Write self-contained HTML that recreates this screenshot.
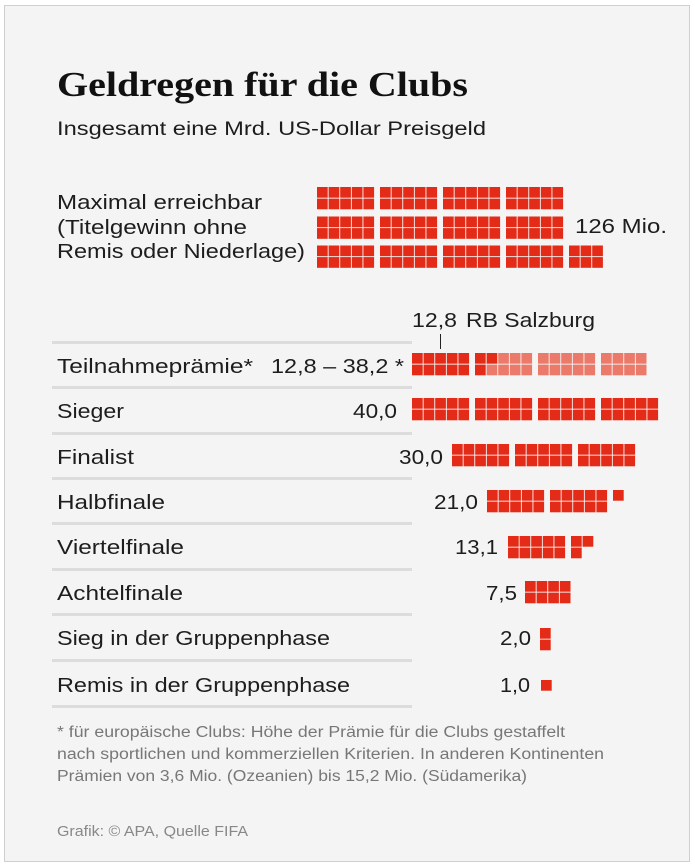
<!DOCTYPE html>
<html><head><meta charset="utf-8"><style>
html,body{margin:0;padding:0;background:#fff;}
svg{display:block;}
text{font-family:"Liberation Sans",sans-serif;fill:#1d1d1d;}
</style></head><body>
<svg id="s" width="695" height="866" xmlns="http://www.w3.org/2000/svg">
<rect x="4.5" y="5.5" width="685" height="856" fill="#f4f4f4" stroke="#cfcfcf"/>
<text x="57" y="96" style="font-family:'Liberation Serif',serif;font-weight:bold;font-size:35px;fill:#111" textLength="411" lengthAdjust="spacingAndGlyphs">Geldregen für die Clubs</text>
<text x="57" y="135" font-size="19.5" textLength="429" lengthAdjust="spacingAndGlyphs">Insgesamt eine Mrd. US-Dollar Preisgeld</text>
<g font-size="20.5">
<text x="57" y="209" textLength="205" lengthAdjust="spacingAndGlyphs">Maximal erreichbar</text>
<text x="57" y="234" textLength="190" lengthAdjust="spacingAndGlyphs">(Titelgewinn ohne</text>
<text x="57" y="258" textLength="248" lengthAdjust="spacingAndGlyphs">Remis oder Niederlage)</text>
<text x="575" y="233" textLength="92" lengthAdjust="spacingAndGlyphs">126 Mio.</text>
<text x="412" y="327" textLength="45" lengthAdjust="spacingAndGlyphs">12,8</text>
<text x="466" y="327" textLength="129" lengthAdjust="spacingAndGlyphs">RB Salzburg</text>
</g>
<line x1="440.5" y1="334" x2="440.5" y2="349" stroke="#222" stroke-width="1"/>
<g fill="#dcdcdc">
<rect x="52" y="341" width="360" height="3"/><rect x="52" y="386" width="360" height="3"/>
<rect x="52" y="432" width="360" height="3"/><rect x="52" y="477" width="360" height="3"/>
<rect x="52" y="522" width="360" height="3"/><rect x="52" y="568" width="360" height="3"/>
<rect x="52" y="613" width="360" height="3"/><rect x="52" y="659" width="360" height="3"/>
<rect x="52" y="705" width="360" height="3"/>
</g>
<g font-size="20.5">
<text x="57" y="373" textLength="196" lengthAdjust="spacingAndGlyphs">Teilnahmeprämie*</text><text x="271" y="373" textLength="133" lengthAdjust="spacingAndGlyphs">12,8 – 38,2 *</text>
<text x="57" y="418" textLength="67" lengthAdjust="spacingAndGlyphs">Sieger</text><text x="353" y="418" textLength="44" lengthAdjust="spacingAndGlyphs">40,0</text>
<text x="57" y="464" textLength="77" lengthAdjust="spacingAndGlyphs">Finalist</text><text x="399" y="464" textLength="44" lengthAdjust="spacingAndGlyphs">30,0</text>
<text x="57" y="509" textLength="108" lengthAdjust="spacingAndGlyphs">Halbfinale</text><text x="434" y="509" textLength="44" lengthAdjust="spacingAndGlyphs">21,0</text>
<text x="57" y="554" textLength="127" lengthAdjust="spacingAndGlyphs">Viertelfinale</text><text x="455" y="554" textLength="43" lengthAdjust="spacingAndGlyphs">13,1</text>
<text x="57" y="600" textLength="126" lengthAdjust="spacingAndGlyphs">Achtelfinale</text><text x="486" y="600" textLength="31" lengthAdjust="spacingAndGlyphs">7,5</text>
<text x="57" y="645" textLength="273" lengthAdjust="spacingAndGlyphs">Sieg in der Gruppenphase</text><text x="500" y="645" textLength="31" lengthAdjust="spacingAndGlyphs">2,0</text>
<text x="57" y="692" textLength="293" lengthAdjust="spacingAndGlyphs">Remis in der Gruppenphase</text><text x="500" y="692" textLength="30" lengthAdjust="spacingAndGlyphs">1,0</text>
</g>
<g font-size="15.5">
<text x="57" y="737" style="fill:#777" textLength="508" lengthAdjust="spacingAndGlyphs">* für europäische Clubs: Höhe der Prämie für die Clubs gestaffelt</text>
<text x="57" y="759" style="fill:#777" textLength="547" lengthAdjust="spacingAndGlyphs">nach sportlichen und kommerziellen Kriterien. In anderen Kontinenten</text>
<text x="57" y="781" style="fill:#777" textLength="470" lengthAdjust="spacingAndGlyphs">Prämien von 3,6 Mio. (Ozeanien) bis 15,2 Mio. (Südamerika)</text>
<text x="57" y="836" font-size="14.5" style="fill:#888" textLength="191" lengthAdjust="spacingAndGlyphs">Grafik: © APA, Quelle FIFA</text>
</g>
<g id="cells"></g>
</svg>
<script>
var g=document.getElementById('cells');
function row(x0,y0,n,dark,pw){
  pw=pw||11.6;
  for(var i=0;i<n;i++){
    var col=Math.floor(i/2),r=i%2;
    var grp=Math.floor(col/5),c=col%5;
    var x=x0+grp*63+c*pw, y=y0+r*11.6;
    var e=document.createElementNS('http://www.w3.org/2000/svg','rect');
    e.setAttribute('x',x);e.setAttribute('y',y);
    e.setAttribute('width',pw-0.9);e.setAttribute('height',10.7);
    e.setAttribute('fill',(dark===undefined||i<dark)?'#e32b17':'#ec7a6a');
    g.appendChild(e);
  }
}
row(317,187,40);row(317,216.5,40);row(317,245.5,46);
row(412,353,38,13);
row(412,398,40);
row(452,444,30);
row(487,490,21);
row(508,536,13);
row(525,581,8);
row(540,628,2);
row(541,680,1);
</script>
</body></html>
